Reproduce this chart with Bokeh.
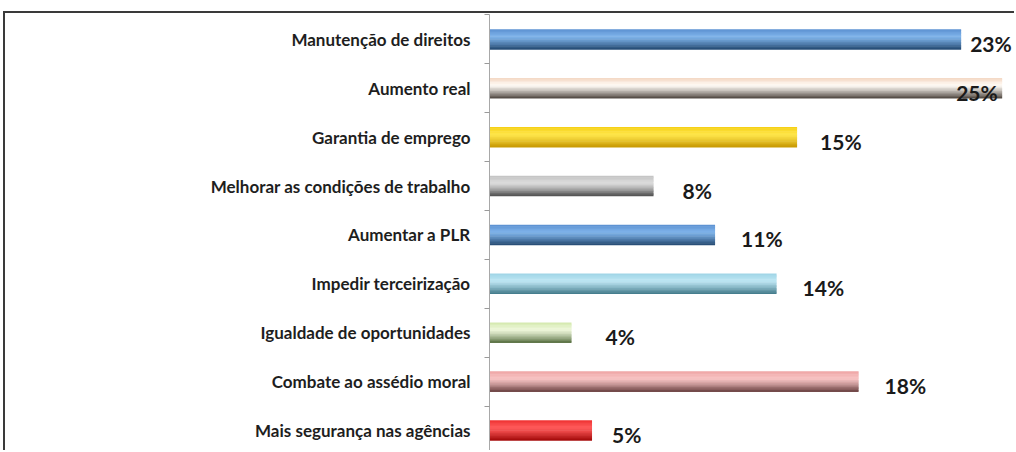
import numpy as np
from bokeh.plotting import figure
from bokeh.models import ColumnDataSource, FixedTicker, Range1d
from bokeh.core.properties import value
from bokeh.embed import file_html
from bokeh.resources import INLINE

# ---- data ----
categories = ["Manutenção de direitos", "Aumento real", "Garantia de emprego",
              "Melhorar as condições de trabalho", "Aumentar a PLR",
              "Impedir terceirização", "Igualdade de oportunidades",
              "Combate ao assédio moral", "Mais segurança nas agências"]
values = [23, 25, 15, 8, 11, 14, 4, 18, 5]
value_labels = ["23%", "25%", "15%", "8%", "11%", "14%", "4%", "18%", "5%"]

# ---- styles ----
grad_top = ["#5a8fd0", "#f3d6c2", "#f5cf10", "#c2c2c2", "#5a8fd0", "#9fd4e6", "#d3e8ac", "#eea4a4", "#ee3232"]
grad_hi  = ["#7fb3ea", "#fffaf4", "#ffe64a", "#dcdcdc", "#7fb3ea", "#bde6f3", "#eef7da", "#f8c4c4", "#ff5a5a"]
grad_bot = ["#22476f", "#4a423c", "#c69600", "#4c4c4c", "#22476f", "#3c7686", "#566e40", "#6a4242", "#a00808"]
label_dx = [9, -46, 23, 29, 26, 26, 34, 26, 20]

n = len(categories)
ypos = [n - 1 - i for i in range(n)]


def hex2rgb(h):
    h = h.lstrip("#")
    return np.array([int(h[i:i + 2], 16) for i in (0, 2, 4)], dtype=float)


def mix(a, b, t):
    c = hex2rgb(a) * (1 - t) + hex2rgb(b) * t
    return "#%02x%02x%02x" % tuple(int(round(v)) for v in c)


# figure is shifted by a CSS margin so the left/top chart border can be drawn
p = figure(width=1011, height=439, x_range=Range1d(0, 25.7), y_range=Range1d(-0.45, 8.51),
           output_backend="svg", toolbar_location=None,
           min_border_left=484, min_border_right=0, min_border_top=1, min_border_bottom=0)
p.styles = {"border-left": "2px solid #3a3a3a", "border-top": "2px solid #3a3a3a",
            "margin-left": "3px", "margin-top": "11px"}
p.xaxis.visible = False
p.xgrid.visible = False
p.ygrid.visible = False
p.outline_line_color = None

bar_h = 0.41
N = 14
strip_h = bar_h / N
for k in range(N):
    t = (k + 0.5) / N
    if t < 0.35:
        cols = [mix(a, b, t / 0.35) for a, b in zip(grad_top, grad_hi)]
    else:
        cols = [mix(a, b, ((t - 0.35) / 0.65) ** 1.3) for a, b in zip(grad_hi, grad_bot)]
    src = ColumnDataSource(dict(y=[y + bar_h / 2 - (k + 0.5) * strip_h for y in ypos],
                                right=values, color=cols))
    p.hbar(y="y", left=0, right="right", height=strip_h * 1.35, fill_color="color",
           line_color=None, source=src)

lab_src = ColumnDataSource(dict(x=values, y=ypos, text=value_labels, dx=label_dx))
p.text(x="x", y="y", text="text", x_offset="dx", y_offset=4, source=lab_src,
       text_font=value("Lato"), text_font_style="bold", text_font_size="21px",
       text_baseline="middle", text_align="left", text_color="#1a1a1a")

ax = p.yaxis[0]
ax.ticker = FixedTicker(ticks=ypos, minor_ticks=[k + 0.5 for k in range(-1, n)])
ax.major_label_overrides = {y: c for y, c in zip(ypos, categories)}
ax.major_label_text_font = "Lato"
ax.major_label_text_font_style = "bold"
ax.major_label_text_font_size = "17px"
ax.major_label_text_color = "#1e1e1e"
ax.major_label_standoff = 14
ax.major_tick_line_color = None
ax.major_tick_out = 0
ax.major_tick_in = 0
ax.minor_tick_out = 5
ax.minor_tick_in = 0
ax.minor_tick_line_color = "#9a9a9a"
ax.axis_line_color = "#a8a8a8"

open("out.html", "w").write(file_html(p, INLINE))
